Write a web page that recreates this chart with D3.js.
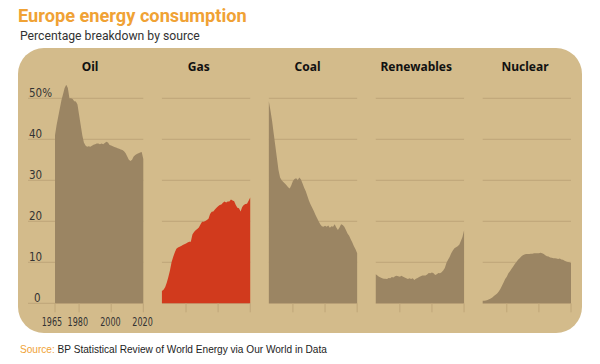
<!DOCTYPE html>
<html><head><meta charset="utf-8">
<script src="https://cdn.jsdelivr.net/npm/d3@7"></script>
<style>
body{margin:0;background:#fff;}
svg{display:block;}
</style></head>
<body>
<svg id="c" width="600" height="364"></svg>
<script>
const years = d3.range(1965, 2021);
const sources = ["Oil", "Gas", "Coal", "Renewables", "Nuclear"];
const oil = [41,43.5,45.5,47.5,49.5,51,52.5,53.3,52.5,50,50,49.8,49.3,49.2,48.5,46,43.5,41,39.2,38.5,38.2,38.3,38.2,38.4,38.7,38.8,39,39,38.8,39,38.8,39.1,39.4,39.2,38.6,38.5,38.3,38.1,38,37.8,37.7,37.5,37.4,37.1,36.6,35.8,35,34.7,35,35.8,36.2,36.4,36.6,36.8,36.9,35.2];
const gas = [3.0,3.3,3.9,5.0,6.4,8.0,10.0,11.3,12.4,13.3,13.6,13.8,14.0,14.2,14.4,14.6,14.8,15.0,15.0,16.8,17.4,17.8,18.1,18.5,19.2,19.9,19.9,20.1,20.3,20.6,21.8,22.3,22.4,22.9,23.3,23.7,24.0,24.1,24.5,24.8,24.6,24.8,24.8,25.3,25.1,24.9,24.0,23.3,23.2,22.4,23.5,24.0,24.2,24.3,25.0,25.8];
const coal = [49.3,47,44.5,41.5,38.5,35.5,32.5,30.7,30.0,29.6,29.2,28.8,28.3,28.0,28.8,29.8,30.3,30.5,30.1,30.7,30.2,29.2,28.2,27.3,26.2,25.0,24.1,23.3,22.5,21.6,20.8,20.0,19.3,18.8,18.7,18.9,18.7,19.0,18.4,18.8,18.7,19.3,18.5,17.9,18.5,19.3,19.1,18.7,17.9,17.0,16.5,15.6,14.8,13.9,13.2,12.2];
const renewables = [7.1,6.8,6.5,6.3,6.1,6.0,6.0,5.9,6.2,6.1,6.4,6.3,6.6,6.7,6.6,6.5,6.7,6.5,6.3,6.1,5.9,6.1,5.9,6.1,5.7,6.0,6.2,6.4,6.6,6.8,6.8,6.8,7.0,7.4,7.3,7.5,7.3,6.9,7.1,7.4,7.3,7.6,8.0,8.6,9.8,10.6,11.3,12.2,12.9,13.4,13.7,13.9,14.3,15.2,16.2,17.8];
const nuclear = [0.6,0.6,0.7,0.8,1.0,1.2,1.4,1.8,2.1,2.4,2.9,3.5,4.3,5.1,5.9,6.5,7.3,7.8,8.4,9.0,9.6,10.1,10.6,11.0,11.4,11.7,11.9,12.0,12.0,12.0,12.1,12.1,12.2,12.2,12.2,12.2,12.3,12.2,12.0,11.7,11.5,11.4,11.2,11.1,11.0,11.0,10.9,10.8,10.9,10.7,10.6,10.4,10.2,10.1,10.0,9.8];
const seriesValues = [oil, gas, coal, renewables, nuclear];
const yTicks = [0, 10, 20, 30, 40, 50];
const yTickLabels = ["0", "10", "20", "30", "40", "50%"];
const xTicks = [1965, 1980, 2000, 2020];
const title = "Europe energy consumption";
const subtitle = "Percentage breakdown by source";
const sourceLabel = "Source:";
const sourceText = " BP Statistical Review of World Energy via Our World in Data";

const svg = d3.select("#c");
const BG = "#d3bb8b", AREA = "#9b8563", RED = "#d13a1d", GRID = "#bfa679";
const AXFONT = "'Liberation Sans Narrow', 'DejaVu Sans Condensed', sans-serif";

svg.append("text").attr("x", 18).attr("y", 22).attr("font-family", "Roboto").attr("font-weight", 700)
  .attr("font-size", 18.2).attr("fill", "#f0a235").text(title);
svg.append("text").attr("x", 20).attr("y", 40).attr("font-family", "Roboto")
  .attr("font-size", 12.2).attr("fill", "#333").text(subtitle);

svg.append("rect").attr("x", 18).attr("y", 48).attr("width", 564).attr("height", 285)
  .attr("rx", 26).attr("ry", 26).attr("fill", BG);

const y = d3.scaleLinear().domain([0, 50]).range([303.3, 98.3]);
const panelW = 88.3;
const panelLeft = d3.scaleLinear().domain([0, 4]).range([55, 482.7]);
const titleX = d3.scaleLinear().domain([0, 4]).range([90, 525]);

sources.forEach((name, i) => {
  const x0 = panelLeft(i);
  const x = d3.scaleLinear().domain([1965, 2020]).range([x0, x0 + panelW]);
  const g = svg.append("g");
  const gx0 = i === 0 ? 28 : x0;
  g.selectAll("line.grid").data(yTicks).join("line").attr("class", "grid")
    .attr("x1", gx0).attr("x2", x0 + panelW)
    .attr("y1", d => y(d)).attr("y2", d => y(d))
    .attr("stroke", GRID).attr("stroke-width", 1);
  const vals = seriesValues[i];
  const area = d3.area().x((d, j) => x(years[j])).y0(y(0)).y1(d => y(d));
  g.append("path").datum(vals).attr("d", area).attr("fill", i === 1 ? RED : AREA);
  const ticks = i === 0 ? xTicks : xTicks.slice(1);
  g.selectAll("line.tick").data(ticks).join("line").attr("class", "tick")
    .attr("x1", d => x(d)).attr("x2", d => x(d))
    .attr("y1", y(0)).attr("y2", y(0) + 9)
    .attr("stroke", GRID).attr("stroke-width", 1);
  if (i === 0) {
    g.selectAll("text.xl").data(xTicks).join("text").attr("class", "xl")
      .attr("x", (d, k) => x(d) + [-3.3, -1.5, -1, -1][k] - 10)
      .attr("y", 325.5)
      .attr("textLength", 20.5).attr("lengthAdjust", "spacingAndGlyphs")
      .attr("font-family", AXFONT)
      .attr("font-size", 12.5).attr("fill", "#333").text(d => d);
    g.selectAll("text.yl").data(yTicks).join("text").attr("class", "yl")
      .attr("x", d => d === 0 ? 34 : 29).attr("y", d => y(d) - 1.8)
      .attr("font-family", AXFONT)
      .attr("font-size", 11.5).attr("fill", "#333").text((d, k) => yTickLabels[k]);
  }
  svg.append("text").attr("x", titleX(i)).attr("y", 71).attr("text-anchor", "middle")
    .attr("font-family", "'Noto Sans'").attr("font-weight", 700).attr("font-size", 12)
    .attr("fill", "#111").text(name);
});

const src = svg.append("text").attr("x", 20).attr("y", 352.5)
  .attr("font-family", "'Liberation Sans', Arial").attr("font-size", 10.1).attr("fill", "#222");
src.append("tspan").attr("fill", "#f0a235").text(sourceLabel);
src.append("tspan").text(sourceText);
</script>
</body></html>
